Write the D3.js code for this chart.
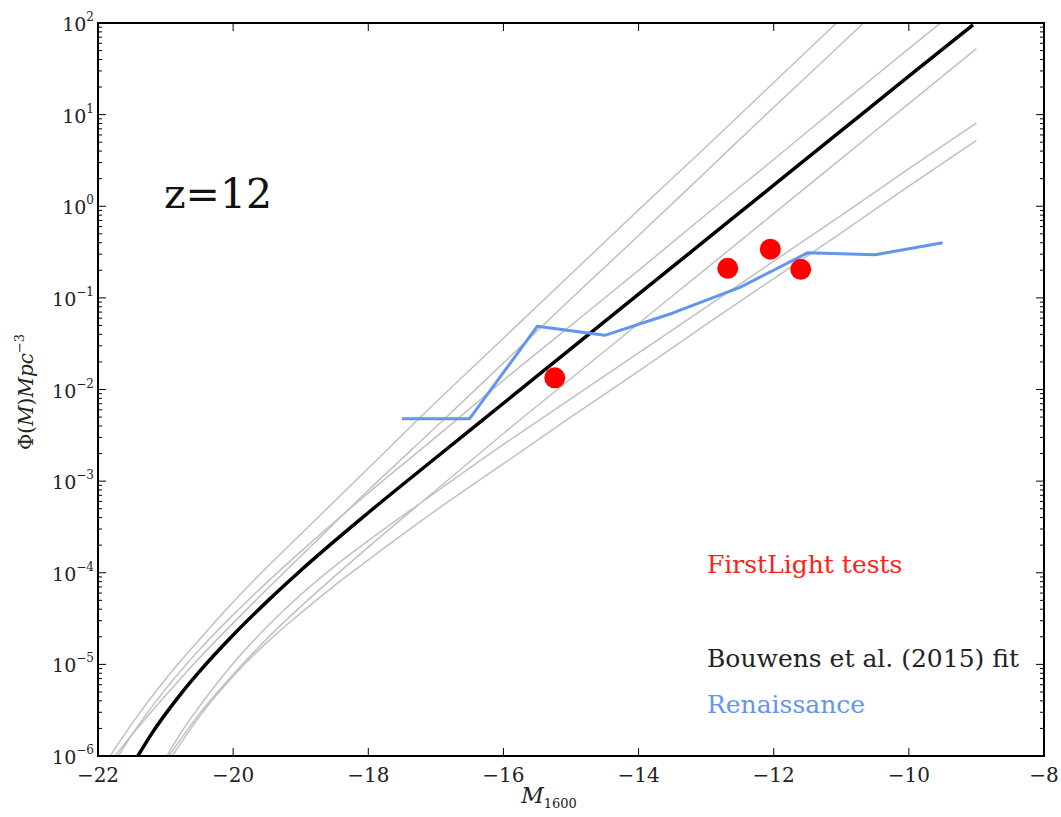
<!DOCTYPE html>
<html lang="en">
<head>
<meta charset="UTF-8">
<title>z=12 UV luminosity function</title>
<script src="https://d3js.org/d3.v7.min.js"></script>
<style>
  body { margin: 0; background: #fff; }
  svg { display: block; }
  text { font-family: "DejaVu Serif", serif; }
</style>
</head>
<body>
<script>
// Bouwens et al. (2015) fit -- log10(Phi)
const bouwensM   = [-21.41, -21.2, -21, -20.75, -20.5, -20, -19.5, -19, -18, -17, -16, -15, -14, -13, -12, -11, -10, -9.05];
const bouwensLog = [-6.0, -5.75, -5.54, -5.30, -5.08, -4.68, -4.315, -3.975, -3.345, -2.745, -2.15, -1.555, -0.96, -0.365, 0.23, 0.825, 1.42, 1.98];

// grey curves (fit uncertainties), one list per curve
const grayM = [
  [-21.82, -21.5, -21, -20.5, -20, -19.5, -19, -18, -17, -16, -15, -14, -13, -12, -11],
  [-21.75, -21.5, -21, -20.5, -20, -19.5, -19, -18, -17, -16, -15, -14, -13, -12, -11, -10.5],
  [-21.7, -21.5, -21, -20.5, -20, -19.5, -19, -18, -17, -16, -15, -14, -13, -12, -11, -10, -9.5],
  [-20.95, -20.5, -20, -19.5, -19, -18.5, -18, -17, -16, -15, -14, -13, -12, -11, -10, -9],
  [-20.98, -20.75, -20.5, -20, -19.5, -19, -18.5, -18, -17, -16, -15, -14, -13, -12, -11, -10, -9],
  [-20.9, -20.5, -20, -19.5, -19, -18.5, -18, -17, -16, -15, -14, -13, -12, -11, -10, -9]
];
const grayLog = [
  [-6.0, -5.65, -5.16, -4.73, -4.32, -3.94, -3.58, -2.86, -2.14, -1.44, -0.74, -0.04, 0.65, 1.35, 2.05],
  [-6.0, -5.77, -5.34, -4.93, -4.55, -4.18, -3.82, -3.10, -2.41, -1.71, -1.01, -0.32, 0.38, 1.08, 1.77, 2.12],
  [-6.0, -5.77, -5.27, -4.84, -4.46, -4.105, -3.77, -3.13, -2.52, -1.90, -1.30, -0.70, -0.09, 0.51, 1.12, 1.72, 2.02],
  [-6.0, -5.54, -5.11, -4.72, -4.37, -4.04, -3.72, -3.10, -2.48, -1.88, -1.28, -0.68, -0.08, 0.52, 1.12, 1.72],
  [-6.0, -5.72, -5.46, -4.99, -4.59, -4.24, -3.93, -3.65, -3.12, -2.60, -2.10, -1.60, -1.10, -0.60, -0.10, 0.41, 0.91],
  [-6.0, -5.57, -5.13, -4.76, -4.44, -4.14, -3.86, -3.32, -2.81, -2.30, -1.80, -1.29, -0.79, -0.29, 0.22, 0.72]
];

// Renaissance simulation
const renM   = [-17.5, -16.5, -15.5, -14.5, -13.5, -12.5, -11.5, -10.5, -9.5];
const renPhi = [0.0048, 0.0048, 0.049, 0.039, 0.068, 0.13, 0.31, 0.295, 0.40];

// FirstLight tests
const flM   = [-15.24, -12.68, -12.05, -11.60];
const flPhi = [0.0134, 0.21, 0.34, 0.205];

const xTicks = [-22, -20, -18, -16, -14, -12, -10, -8];
const yExps  = [-6, -5, -4, -3, -2, -1, 0, 1, 2];

const W = 1061, H = 817;
const pLeft = 98, pRight = 1044, pTop = 23, pBottom = 756;

const svg = d3.select("body").append("svg")
  .attr("width", W)
  .attr("height", H);

const x = d3.scaleLinear().domain([-22, -8]).range([pLeft, pRight]);
const y = d3.scaleLog().domain([1e-6, 1e2]).range([pBottom, pTop]);

svg.append("defs").append("clipPath").attr("id", "plot")
  .append("rect")
  .attr("x", pLeft).attr("y", pTop)
  .attr("width", pRight - pLeft).attr("height", pBottom - pTop);

const plot = svg.append("g").attr("clip-path", "url(#plot)");

const line = d3.line()
  .x(d => x(d[0]))
  .y(d => y(d[1]))
  .curve(d3.curveMonotoneX);

// grey curves
grayM.forEach((ms, i) => {
  plot.append("path")
    .datum(ms.map((m, j) => [m, Math.pow(10, grayLog[i][j])]))
    .attr("fill", "none")
    .attr("stroke", "#c0c0c0")
    .attr("stroke-width", 1.5)
    .attr("d", line);
});

// Bouwens fit
plot.append("path")
  .datum(bouwensM.map((m, j) => [m, Math.pow(10, bouwensLog[j])]))
  .attr("fill", "none")
  .attr("stroke", "#000")
  .attr("stroke-width", 3.5)
  .attr("d", line);

// Renaissance
plot.append("path")
  .datum(renM.map((m, j) => [m, renPhi[j]]))
  .attr("fill", "none")
  .attr("stroke", "#6495ed")
  .attr("stroke-width", 3)
  .attr("stroke-linejoin", "round")
  .attr("d", d3.line().x(d => x(d[0])).y(d => y(d[1])));

// FirstLight points
plot.selectAll("circle.fl")
  .data(flM.map((m, j) => [m, flPhi[j]]))
  .join("circle")
  .attr("class", "fl")
  .attr("cx", d => x(d[0]))
  .attr("cy", d => y(d[1]))
  .attr("r", 10.5)
  .attr("fill", "#ff0000");

// ticks (inward, all four sides)
const ticks = svg.append("g").attr("stroke", "#000").attr("stroke-width", 1);
xTicks.forEach(t => {
  ticks.append("line").attr("x1", x(t)).attr("x2", x(t)).attr("y1", pBottom).attr("y2", pBottom - 8);
  ticks.append("line").attr("x1", x(t)).attr("x2", x(t)).attr("y1", pTop).attr("y2", pTop + 8);
});
yExps.forEach(e => {
  const v = Math.pow(10, e);
  ticks.append("line").attr("x1", pLeft).attr("x2", pLeft + 8).attr("y1", y(v)).attr("y2", y(v));
  ticks.append("line").attr("x1", pRight).attr("x2", pRight - 8).attr("y1", y(v)).attr("y2", y(v));
  if (e < 2) {
    for (let k = 2; k <= 9; k++) {
      const yy = y(k * v);
      ticks.append("line").attr("x1", pLeft).attr("x2", pLeft + 4).attr("y1", yy).attr("y2", yy);
      ticks.append("line").attr("x1", pRight).attr("x2", pRight - 4).attr("y1", yy).attr("y2", yy);
    }
  }
});

// frame
svg.append("rect")
  .attr("x", pLeft).attr("y", pTop)
  .attr("width", pRight - pLeft).attr("height", pBottom - pTop)
  .attr("fill", "none")
  .attr("stroke", "#000")
  .attr("stroke-width", 2);

// x tick labels
svg.append("g").selectAll("text")
  .data(xTicks)
  .join("text")
  .attr("x", d => x(d))
  .attr("y", pBottom + 26)
  .attr("text-anchor", "middle")
  .attr("font-size", 20)
  .attr("fill", "#222")
  .text(d => d < 0 ? "\u2212" + Math.abs(d) : d);

// y tick labels
const yl = svg.append("g").selectAll("text")
  .data(yExps)
  .join("text")
  .attr("x", pLeft - 4)
  .attr("y", d => y(Math.pow(10, d)) + 8)
  .attr("text-anchor", "end")
  .attr("font-size", 19)
  .attr("fill", "#222");
yl.append("tspan").text("10");
yl.append("tspan")
  .attr("font-size", 12)
  .attr("dy", -10)
  .text(d => d < 0 ? "\u2212" + Math.abs(d) : d);

// axis labels
const xl = svg.append("text")
  .attr("x", 549)
  .attr("y", 803)
  .attr("text-anchor", "middle")
  .attr("font-size", 22)
  .attr("fill", "#222");
xl.append("tspan").attr("font-style", "italic").text("M");
xl.append("tspan").attr("font-size", 13).attr("dy", 5).text("1600");

const ylab = svg.append("text")
  .attr("transform", "translate(33,392) rotate(-90)")
  .attr("text-anchor", "middle")
  .attr("font-size", 20)
  .attr("fill", "#222");
ylab.append("tspan").text("\u03a6(");
ylab.append("tspan").attr("font-style", "italic").text("M");
ylab.append("tspan").text(")");
ylab.append("tspan").attr("font-style", "italic").text("Mpc");
ylab.append("tspan").attr("font-size", 13).attr("dy", -9).text("\u22123");

// redshift label
svg.append("text")
  .attr("x", 164)
  .attr("y", 208)
  .attr("font-size", 41)
  .attr("fill", "#111")
  .text("z=12");

// legend texts
const legend = [
  { label: "FirstLight tests", color: "#ff2020", yy: 573 },
  { label: "Bouwens et al. (2015) fit", color: "#222", yy: 667 },
  { label: "Renaissance", color: "#6495ed", yy: 713 }
];
svg.append("g").selectAll("text")
  .data(legend)
  .join("text")
  .attr("x", 707)
  .attr("y", d => d.yy)
  .attr("font-size", 25)
  .attr("fill", d => d.color)
  .text(d => d.label);
</script>
</body>
</html>
